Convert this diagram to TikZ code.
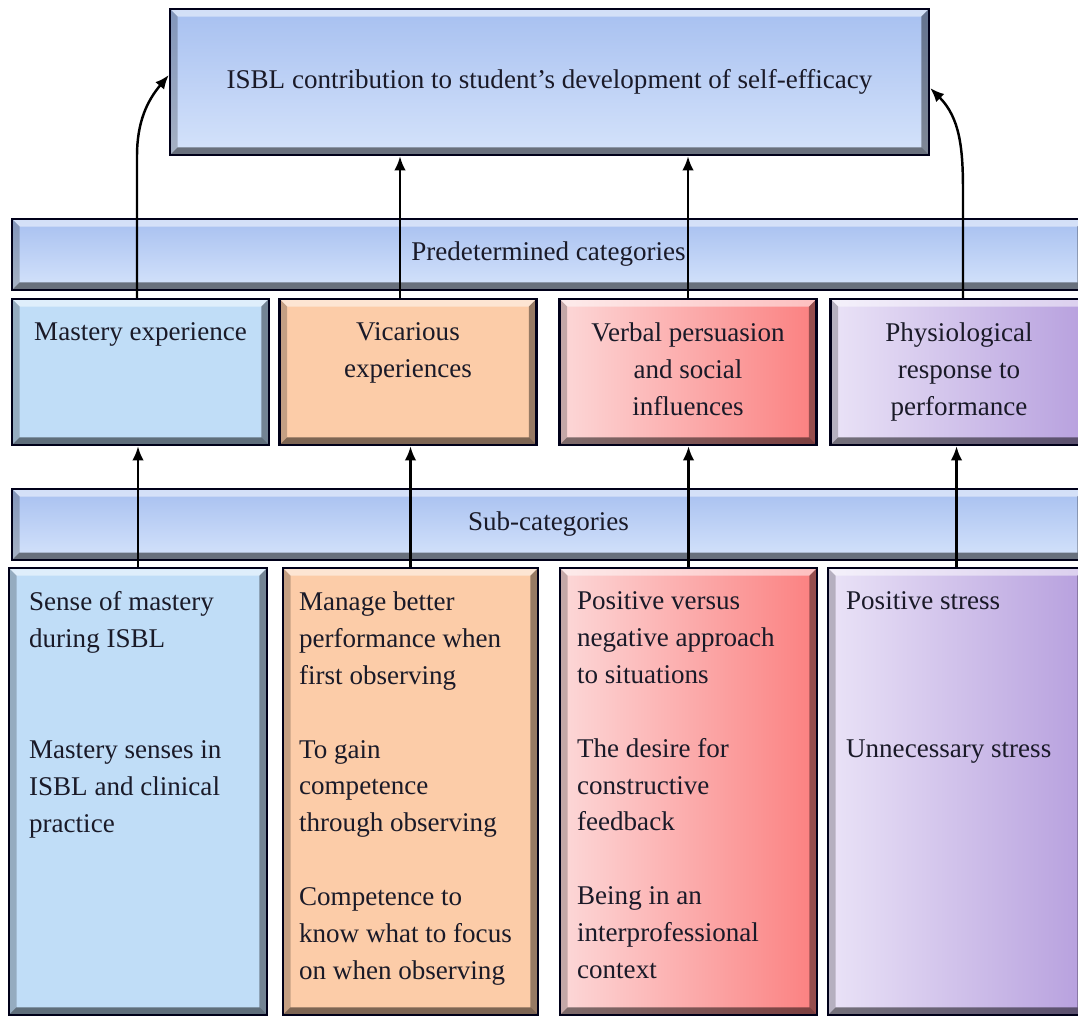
\documentclass[tikz,border=0pt]{standalone}
\usepackage{fontspec}
\setmainfont{Liberation Serif}
\usetikzlibrary{arrows,arrows.meta,positioning,calc}

\definecolor{ink}{HTML}{1A1A28}
\definecolor{topA}{HTML}{A7C0F0}
\definecolor{topB}{HTML}{D5E3FB}
\definecolor{masteryfill}{HTML}{C0DDF7}
\definecolor{vicfill}{HTML}{FCCCA8}
\definecolor{verbA}{HTML}{FCD8D8}
\definecolor{verbB}{HTML}{FB8080}
\definecolor{physA}{HTML}{EAE3F7}
\definecolor{physB}{HTML}{B7A0DE}

\newcommand{\bevw}{0.15cm}
% bevelled edge drawn inside every box
\newcommand{\bevelframe}{%
  \fill[white,opacity=.5] (path picture bounding box.north west) -- (path picture bounding box.north east)
    -- ([shift={(-\bevw,-\bevw)}]path picture bounding box.north east) -- ([shift={(\bevw,-\bevw)}]path picture bounding box.north west) -- cycle;
  \fill[black,opacity=.22] (path picture bounding box.north west) -- ([shift={(\bevw,-\bevw)}]path picture bounding box.north west)
    -- ([shift={(\bevw,\bevw)}]path picture bounding box.south west) -- (path picture bounding box.south west) -- cycle;
  \fill[black,opacity=.5] (path picture bounding box.south west) -- ([shift={(\bevw,\bevw)}]path picture bounding box.south west)
    -- ([shift={(-\bevw,\bevw)}]path picture bounding box.south east) -- (path picture bounding box.south east) -- cycle;
  \fill[black,opacity=.4] (path picture bounding box.south east) -- ([shift={(-\bevw,\bevw)}]path picture bounding box.south east)
    -- ([shift={(-\bevw,-\bevw)}]path picture bounding box.north east) -- (path picture bounding box.north east) -- cycle;}

\tikzset{
  bevel/.style={draw=black!90!blue, line width=1.4pt, inner sep=0pt, path picture={\bevelframe}},
  topbox/.style={bevel, top color=topA, bottom color=topB, minimum width=15.18cm, minimum height=2.92cm},
  catbar/.style={bevel, top color=topA, bottom color=topB, minimum width=21.46cm, minimum height=1.42cm},
  catbox/.style={bevel, minimum width=5.14cm, minimum height=2.92cm},
  subbox/.style={bevel, minimum width=5.14cm, minimum height=8.94cm},
  cattext/.style={anchor=north, inner sep=0pt, align=center, text=ink},
  subtext/.style={anchor=north west, inner sep=0pt, align=left, text=ink},
  arrow/.style={-{Latex[length=8pt,width=6.5pt]}, line width=1.4pt}
}

\begin{document}
\begin{tikzpicture}[x=0.02cm, y=-0.02cm, font=\fontsize{15.4}{21}\selectfont]
\useasboundingbox (0,0) rectangle (1078,1017);

% top
\node[topbox, text=ink] (top) at (549.5,82) {ISBL contribution to student’s development of self-efficacy};

% bars
\node[catbar, text=ink] (pred) at (548.5,254.5) {Predetermined categories};
\node[catbar, text=ink] (sub) at (548.5,524.5) {Sub-categories};

% predetermined categories
\node[catbox, fill=masteryfill] (mcat) at (140.5,372) {};
\node[catbox, fill=vicfill] (vcat) at (408,372) {};
\node[catbox, left color=verbA, right color=verbB] (rcat) at (688,372) {};
\node[catbox, left color=physA, right color=physB] (pcat) at (959,372) {};

\node[cattext] (mcatt) at ([yshift=-0.49cm]mcat.north) {Mastery experience};
\node[cattext] (vcatt) at ([yshift=-0.49cm]vcat.north) {Vicarious\\experiences};
\node[cattext] (rcatt) at ([yshift=-0.49cm]rcat.north) {Verbal persuasion\\and social\\influences};
\node[cattext] (pcatt) at ([yshift=-0.49cm]pcat.north) {Physiological\\response to\\performance};

% sub-categories
\node[subbox, fill=masteryfill, minimum width=5.16cm] (mbot) at (138,791.5) {};
\node[subbox, fill=vicfill, minimum width=5.1cm] (vbot) at (410.5,791.5) {};
\node[subbox, left color=verbA, right color=verbB] (rbot) at (688.5,791.5) {};
\node[subbox, left color=physA, right color=physB] (pbot) at (956.5,791.5) {};

\node[subtext] (mbott) at ([shift={(0.42cm,-0.49cm)}]mbot.north west)
  {Sense of mastery\\during ISBL\\[42pt]Mastery senses in\\ISBL and clinical\\practice};
\node[subtext] (vbott) at ([shift={(0.34cm,-0.49cm)}]vbot.north west)
  {Manage better\\performance when\\first observing\\[21pt]To gain\\competence\\through observing\\[21pt]Competence to\\know what to focus\\on when observing};
\node[subtext] (rbott) at ([shift={(0.36cm,-0.49cm)}]rbot.north west)
  {Positive versus\\negative approach\\to situations\\[21pt]The desire for\\constructive\\feedback\\[21pt]Being in an\\interprofessional\\context};
\node[subtext] (pbott) at ([shift={(0.38cm,-0.49cm)}]pbot.north west)
  {Positive stress\\[63pt]Unnecessary stress};

% arrows
\coordinate (mup) at ([xshift=-0.07cm]mcat.north);
\coordinate (vup) at ([xshift=-0.16cm]vcat.north);
\coordinate (pup) at ([xshift=0.08cm]pcat.north);
\path (pup |- top.south) ++(0,-0.7cm) coordinate (pbend);

\draw[arrow] (mup) -- (mup |- top.south) to[out=90,in=230] ([yshift=0.14cm]top.west);
\draw[arrow] (vup) -- (vup |- top.south);
\draw[arrow] (rcat.north) -- (rcat.north |- top.south);
\draw[arrow] (pup) -- (pbend) to[out=90,in=-45] ([yshift=-0.12cm]top.east);

\draw[arrow] (mbot.north) -- (mbot.north |- mcat.south);
\draw[arrow] (vbot.north) -- (vbot.north |- vcat.south);
\draw[arrow] (rbot.north) -- (rbot.north |- rcat.south);
\draw[arrow] (pbot.north) -- (pbot.north |- pcat.south);
\end{tikzpicture}
\end{document}
